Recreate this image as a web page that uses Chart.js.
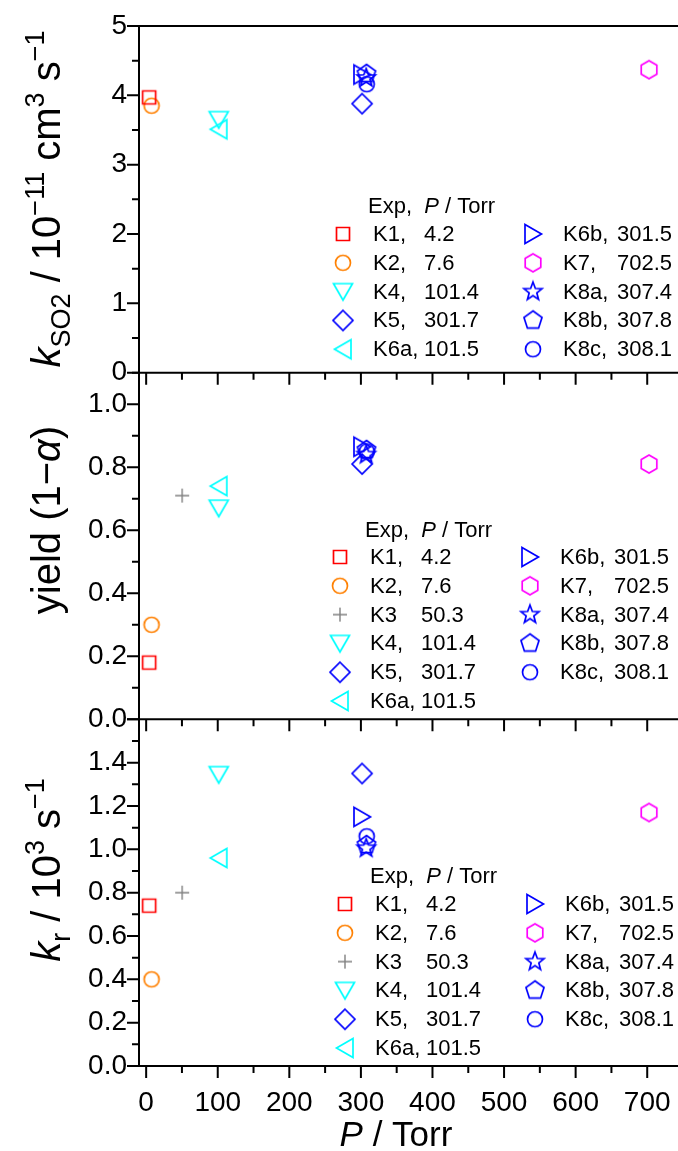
<!DOCTYPE html>
<html lang="en">
<head>
  <meta charset="UTF-8">
  <title>k(SO2), yield and k(r) vs pressure</title>
  <style>
    html, body { margin: 0; padding: 0; background: #fff; }
    #wrap { width: 678px; height: 1151px; }
  </style>
  <script src="https://cdn.jsdelivr.net/npm/chart.js"></script>
</head>
<body>
  <div id="wrap"><canvas id="chart" width="678" height="1151"></canvas></div>

  <script>
    // experiments and their pressures (Torr)
    const expNames = ['K1', 'K2', 'K3', 'K4', 'K5', 'K6a', 'K6b', 'K7', 'K8a', 'K8b', 'K8c'];
    const legendTags = ['K1,', 'K2,', 'K3', 'K4,', 'K5,', 'K6a,', 'K6b,', 'K7,', 'K8a,', 'K8b,', 'K8c,'];
    const pressure = [4.2, 7.6, 50.3, 101.4, 301.7, 101.5, 301.5, 702.5, 307.4, 307.8, 308.1];

    const kSO2 = [3.97, 3.85, null, 3.65, 3.88, 3.51, 4.30, 4.37, 4.25, 4.31, 4.16];
    const yieldVals = [0.18, 0.30, 0.71, 0.67, 0.81, 0.74, 0.865, 0.81, 0.84, 0.855, 0.85];
    const kr = [0.74, 0.40, 0.80, 1.345, 1.35, 0.96, 1.15, 1.17, 1.005, 1.02, 1.06];

    // tick labels
    const xTicks = [0, 100, 200, 300, 400, 500, 600, 700];
    const y1Ticks = [0, 1, 2, 3, 4, 5];
    const y2Ticks = [0, 0.2, 0.4, 0.6, 0.8, 1.0];
    const y3Ticks = [0, 0.2, 0.4, 0.6, 0.8, 1.0, 1.2, 1.4];

    const FONT = '"Liberation Sans", Arial, sans-serif';

    const markerShapes = ['square', 'circle', 'plus', 'triDown', 'diamond', 'triLeft', 'triRight', 'hexagon', 'star', 'pentagon', 'circle'];
    const markerColors = ['#ff0000', '#ff8000', '#808080', '#00ffff', '#0000ff', '#00ffff', '#0000ff', '#ff00ff', '#0000ff', '#0000ff', '#0000ff'];

    function makeMarker(shape, color) {
      const s = 26;
      const c = document.createElement('canvas');
      c.width = s; c.height = s;
      const g = c.getContext('2d');
      g.strokeStyle = color;
      g.lineWidth = 1.7;
      g.translate(s / 2, s / 2);
      g.beginPath();
      const poly = (n, r, start) => {
        for (let k = 0; k < n; k++) {
          const a = (start + k * 360 / n) * Math.PI / 180;
          if (k === 0) g.moveTo(r * Math.cos(a), r * Math.sin(a));
          else g.lineTo(r * Math.cos(a), r * Math.sin(a));
        }
        g.closePath();
      };
      switch (shape) {
        case 'square': g.rect(-6.5, -6.5, 13, 13); break;
        case 'circle': g.arc(0, 0, 7.5, 0, Math.PI * 2); break;
        case 'plus':
          g.lineWidth = 1.4;
          g.moveTo(-7, 0); g.lineTo(7, 0); g.moveTo(0, -7); g.lineTo(0, 7);
          break;
        case 'triDown': g.moveTo(-9.5, -8); g.lineTo(9.5, -8); g.lineTo(0, 8.5); g.closePath(); break;
        case 'triLeft': g.moveTo(8, -9.5); g.lineTo(8, 9.5); g.lineTo(-8.5, 0); g.closePath(); break;
        case 'triRight': g.moveTo(-8, -9.5); g.lineTo(-8, 9.5); g.lineTo(8.5, 0); g.closePath(); break;
        case 'diamond': g.moveTo(0, -10); g.lineTo(10, 0); g.lineTo(0, 10); g.lineTo(-10, 0); g.closePath(); break;
        case 'hexagon': poly(6, 9, -90); break;
        case 'pentagon': poly(5, 9.5, -90); break;
        case 'star':
          for (let k = 0; k < 10; k++) {
            const r = k % 2 ? 4 : 9.5;
            const a = (-90 + k * 36) * Math.PI / 180;
            if (k === 0) g.moveTo(r * Math.cos(a), r * Math.sin(a));
            else g.lineTo(r * Math.cos(a), r * Math.sin(a));
          }
          g.closePath();
          break;
      }
      g.stroke();
      return c;
    }

    const markers = markerShapes.map((s, i) => makeMarker(s, markerColors[i]));

    // panels: scale id, values, which experiments go in each legend column
    const panels = [
      { id: 'y1', vals: kSO2, col1: [0, 1, 3, 4, 5], col2: [6, 7, 8, 9, 10],
        legend: { tx: 368, ty: 205, row0: 234, mx1: 343, tx1: 373, vx1: 424, mx2: 533, tx2: 563, vx2: 617 } },
      { id: 'y2', vals: yieldVals, col1: [0, 1, 2, 3, 4, 5], col2: [6, 7, 8, 9, 10],
        legend: { tx: 365, ty: 529, row0: 557, mx1: 340, tx1: 370, vx1: 421, mx2: 530, tx2: 560, vx2: 614 } },
      { id: 'y3', vals: kr, col1: [0, 1, 2, 3, 4, 5], col2: [6, 7, 8, 9, 10],
        legend: { tx: 370, ty: 875, row0: 904, mx1: 345, tx1: 375, vx1: 426, mx2: 535, tx2: 565, vx2: 619 } }
    ];

    const datasets = [];
    panels.forEach(p => {
      p.vals.forEach((v, i) => {
        if (v === null) return;
        datasets.push({
          label: expNames[i],
          data: [{ x: pressure[i], y: v }],
          xAxisID: 'x',
          yAxisID: p.id,
          pointStyle: markers[i],
          pointRadius: 9,
          showLine: false,
          clip: false
        });
      });
    });

    // draw text made of pieces: [text, 'n' | 'i' | 'sub' | 'sup']
    function fontFor(st, size) {
      if (st === 'i') return 'italic ' + size + 'px ' + FONT;
      if (st === 'sub' || st === 'sup') return Math.round(size * 0.68) + 'px ' + FONT;
      return size + 'px ' + FONT;
    }
    function richWidth(ctx, parts, size) {
      let w = 0;
      parts.forEach(([t, st]) => {
        ctx.font = fontFor(st, size);
        w += ctx.measureText(t).width;
      });
      return w;
    }
    function drawRich(ctx, parts, x, y, size, opts) {
      opts = opts || {};
      ctx.save();
      ctx.translate(x, y);
      if (opts.rotate) ctx.rotate(-Math.PI / 2);
      ctx.fillStyle = '#000';
      ctx.textBaseline = 'alphabetic';
      ctx.textAlign = 'left';
      let cx = opts.align === 'left' ? 0 : -richWidth(ctx, parts, size) / 2;
      parts.forEach(([t, st]) => {
        ctx.font = fontFor(st, size);
        let dy = 0;
        if (st === 'sub') dy = size * 0.24;
        if (st === 'sup') dy = -size * 0.40;
        ctx.fillText(t, cx, dy);
        cx += ctx.measureText(t).width;
      });
      ctx.restore();
    }

    const yTitles = [
      { parts: [['k', 'i'], ['SO2', 'sub'], [' / 10', 'n'], ['\u221211', 'sup'], [' cm', 'n'], ['3', 'sup'], [' s', 'n'], ['\u22121', 'sup']], x: 60, y: 199 },
      { parts: [['yield (1\u2212', 'n'], ['\u03b1', 'i'], [')', 'n']], x: 60, y: 520 },
      { parts: [['k', 'i'], ['r', 'sub'], [' / 10', 'n'], ['3', 'sup'], [' s', 'n'], ['\u22121', 'sup']], x: 60, y: 870 }
    ];

    const frame = {
      id: 'frame',
      afterDraw(chart) {
        const ctx = chart.ctx;
        const xs = chart.scales.x;
        const ca = chart.chartArea;
        ctx.save();
        ctx.strokeStyle = '#000';
        ctx.lineWidth = 2;

        // left axis
        ctx.beginPath();
        ctx.moveTo(ca.left, ca.top);
        ctx.lineTo(ca.left, ca.bottom);
        ctx.stroke();

        const minorY = { y1: 0.5, y2: 0.1, y3: 0.1 };
        panels.forEach((p, pi) => {
          const ys = chart.scales[p.id];
          ctx.beginPath();
          ctx.moveTo(ca.left - 1, ys.bottom);
          ctx.lineTo(ca.right, ys.bottom);
          if (pi === 0) {
            ctx.moveTo(ca.left - 1, ys.top);
            ctx.lineTo(ca.right, ys.top);
          }
          // x ticks below each panel
          for (let v = 0; v <= xs.max; v += 50) {
            const px = xs.getPixelForValue(v);
            ctx.moveTo(px, ys.bottom);
            ctx.lineTo(px, ys.bottom + (v % 100 === 0 ? 12 : 7));
          }
          // y ticks
          const step = minorY[p.id];
          const major = p.id === 'y1' ? 1 : 0.2;
          for (let k = 0; k * step <= ys.max + 1e-9; k++) {
            const v = k * step;
            const py = ys.getPixelForValue(v);
            const isMajor = Math.abs(v / major - Math.round(v / major)) < 1e-6;
            ctx.moveTo(ca.left, py);
            ctx.lineTo(ca.left - (isMajor ? 12 : 7), py);
          }
          ctx.stroke();

          // y title
          const t = yTitles[pi];
          drawRich(ctx, t.parts, t.x, t.y, 40, { rotate: true });

          // legend
          const L = p.legend;
          drawRich(ctx, [['Exp,  ', 'n'], ['P', 'i'], [' / Torr', 'n']], L.tx, L.ty + 8, 22, { align: 'left' });
          const drawItem = (i, row, mx, tx, vx) => {
            const y = L.row0 + row * 28.8;
            const m = markers[i];
            ctx.drawImage(m, mx - m.width / 2, y - m.height / 2);
            ctx.font = '22px ' + FONT;
            ctx.fillStyle = '#000';
            ctx.textBaseline = 'middle';
            ctx.textAlign = 'left';
            ctx.fillText(legendTags[i], tx, y + 1);
            ctx.fillText(pressure[i].toFixed(1), vx, y + 1);
          };
          p.col1.forEach((i, r) => drawItem(i, r, L.mx1, L.tx1, L.vx1));
          p.col2.forEach((i, r) => drawItem(i, r, L.mx2, L.tx2, L.vx2));
        });

        // x title
        drawRich(ctx, [['P', 'i'], [' / Torr', 'n']], 396, 1146, 35);
        ctx.restore();
      }
    };

    const tickFont = { family: FONT, size: 28 };
    function yScale(ticks, max, weight) {
      return {
        type: 'linear',
        position: 'left',
        stack: 'panels',
        stackWeight: 1,
        weight: weight,
        min: 0,
        max: max,
        afterBuildTicks: s => { s.ticks = ticks.map(v => ({ value: v })); },
        afterFit: s => { s.width = 139; },
        grid: { display: false, drawTicks: true, tickLength: 12 },
        border: { display: false },
        ticks: {
          autoSkip: false,
          padding: 0,
          color: '#000',
          font: tickFont,
          callback: v => (max > 2 ? String(v) : v.toFixed(1))
        }
      };
    }

    new Chart(document.getElementById('chart'), {
      type: 'scatter',
      data: { datasets: datasets },
      options: {
        responsive: false,
        animation: false,
        events: [],
        layout: { autoPadding: false, padding: { top: 26, right: 0, left: 0, bottom: 0 } },
        plugins: { legend: { display: false }, tooltip: { enabled: false } },
        scales: {
          x: {
            type: 'linear',
            position: 'bottom',
            min: -10,
            max: 743,
            afterBuildTicks: s => { s.ticks = xTicks.map(v => ({ value: v })); },
            afterFit: s => { s.height = 85; s.paddingLeft = 0; s.paddingRight = 0; },
            grid: { display: false, drawTicks: true, tickLength: 12 },
            border: { display: false },
            ticks: { autoSkip: false, maxRotation: 0, padding: 8, color: '#000', font: tickFont }
          },
          y1: yScale(y1Ticks, 5, 3),
          y2: yScale(y2Ticks, 1.1, 2),
          y3: yScale(y3Ticks, 1.6, 1)
        }
      },
      plugins: [frame]
    });
  </script>
</body>
</html>
